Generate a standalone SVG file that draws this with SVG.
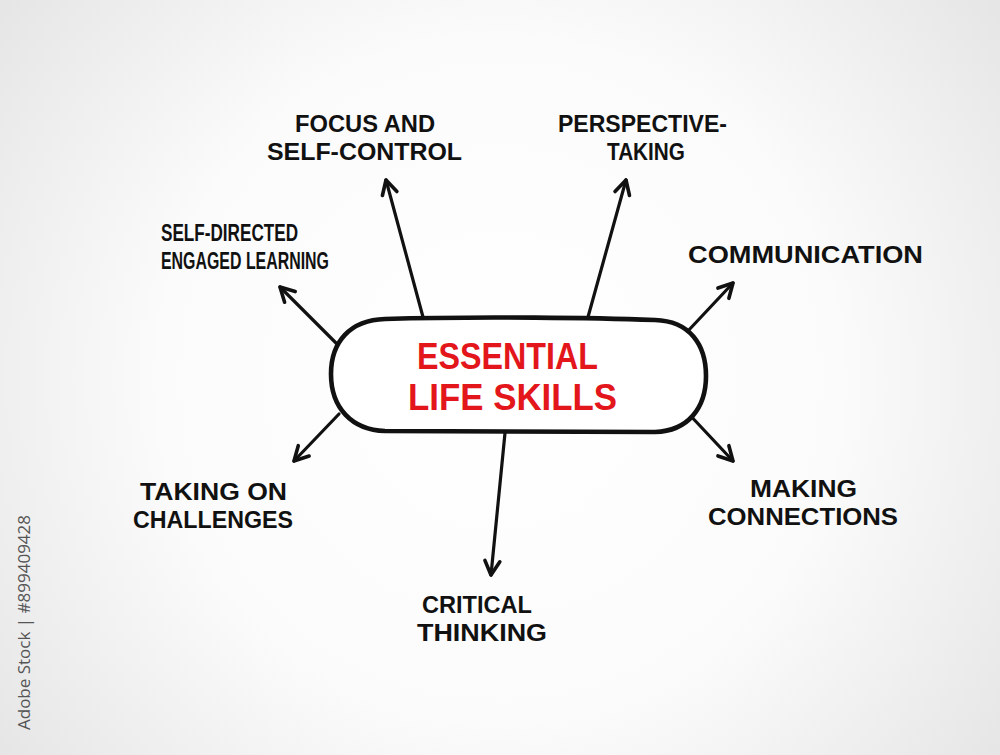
<svg xmlns="http://www.w3.org/2000/svg" width="1000" height="755" viewBox="0 0 1000 755">
  <defs>
    <radialGradient id="bg" cx="500" cy="380" r="620" gradientUnits="userSpaceOnUse">
      <stop offset="0" stop-color="#ffffff"/>
      <stop offset="0.55" stop-color="#fbfbfb"/>
      <stop offset="1" stop-color="#e6e6e6"/>
    </radialGradient>
    <marker id="arrow" markerUnits="userSpaceOnUse" markerWidth="30" markerHeight="30" refX="0" refY="0" viewBox="-20 -15 30 30" orient="auto">
      <path d="M -14,-7.5 L 0,0 L -14,7.5" fill="none" stroke="#111" stroke-width="3.6" stroke-linecap="round" stroke-linejoin="round"/>
    </marker>
    <style>
      .lbl { font-family: "Liberation Sans", Arial, sans-serif; font-weight: 700; font-size: 24.5px; fill: #111; }
      .main { font-family: "Liberation Sans", Arial, sans-serif; font-weight: 700; font-size: 36px; fill: #e3161b; }
      .conn { fill: none; stroke: #111; stroke-width: 3.2; stroke-linecap: round; marker-end: url(#arrow); }
      .pill { fill: #ffffff; stroke: #111; stroke-width: 4.6; stroke-linejoin: round; }
      .stock { font-family: "Open Sans", "Noto Sans", sans-serif; font-size: 16px; fill: #555; }
    </style>
  </defs>

  <rect x="0" y="0" width="1000" height="755" fill="url(#bg)"/>

  <g id="connectors">
    <path class="conn" d="M 423,317 L 386,180"/>
    <path class="conn" d="M 588,317 L 626,180"/>
    <path class="conn" d="M 338,345 L 280,287"/>
    <path class="conn" d="M 687,332 L 733,283"/>
    <path class="conn" d="M 687,412 L 733,461"/>
    <path class="conn" d="M 339,414 L 294,461"/>
    <path class="conn" d="M 505,433 L 491,575"/>
  </g>

  <g id="center">
    <path class="pill" d="M 385,319 C 480,316 600,318 655,320 C 690,321 706,345 706,376 C 706,408 688,431 655,432 L 385,431 C 352,430 331,408 331,374 C 331,342 350,320 385,319 Z"/>
    <text class="main" x="417" y="369" textLength="181" lengthAdjust="spacingAndGlyphs">ESSENTIAL</text>
    <text class="main" x="408" y="410" textLength="209" lengthAdjust="spacingAndGlyphs">LIFE SKILLS</text>
  </g>

  <g id="focus">
    <text class="lbl" x="295" y="132" textLength="140" lengthAdjust="spacingAndGlyphs">FOCUS AND</text>
    <text class="lbl" x="267" y="160" textLength="195" lengthAdjust="spacingAndGlyphs">SELF-CONTROL</text>
  </g>

  <g id="perspective">
    <text class="lbl" x="558" y="132" textLength="169" lengthAdjust="spacingAndGlyphs">PERSPECTIVE-</text>
    <text class="lbl" x="607" y="160" textLength="78" lengthAdjust="spacingAndGlyphs">TAKING</text>
  </g>

  <g id="self-directed">
    <text class="lbl" x="161" y="241" textLength="137" lengthAdjust="spacingAndGlyphs">SELF-DIRECTED</text>
    <text class="lbl" x="161" y="268.5" textLength="168" lengthAdjust="spacingAndGlyphs">ENGAGED LEARNING</text>
  </g>

  <g id="communication">
    <text class="lbl" x="688" y="263" textLength="235" lengthAdjust="spacingAndGlyphs">COMMUNICATION</text>
  </g>

  <g id="making-connections">
    <text class="lbl" x="750" y="497" textLength="107" lengthAdjust="spacingAndGlyphs">MAKING</text>
    <text class="lbl" x="708" y="524.5" textLength="190" lengthAdjust="spacingAndGlyphs">CONNECTIONS</text>
  </g>

  <g id="taking-on-challenges">
    <text class="lbl" x="140" y="500" textLength="147" lengthAdjust="spacingAndGlyphs">TAKING ON</text>
    <text class="lbl" x="133" y="527.5" textLength="160" lengthAdjust="spacingAndGlyphs">CHALLENGES</text>
  </g>

  <g id="critical-thinking">
    <text class="lbl" x="422" y="613" textLength="110" lengthAdjust="spacingAndGlyphs">CRITICAL</text>
    <text class="lbl" x="417" y="640.5" textLength="130" lengthAdjust="spacingAndGlyphs">THINKING</text>
  </g>

  <text class="stock" transform="translate(30,730) rotate(-90)" x="0" y="0" textLength="215" lengthAdjust="spacingAndGlyphs">Adobe Stock | #899409428</text>
</svg>
